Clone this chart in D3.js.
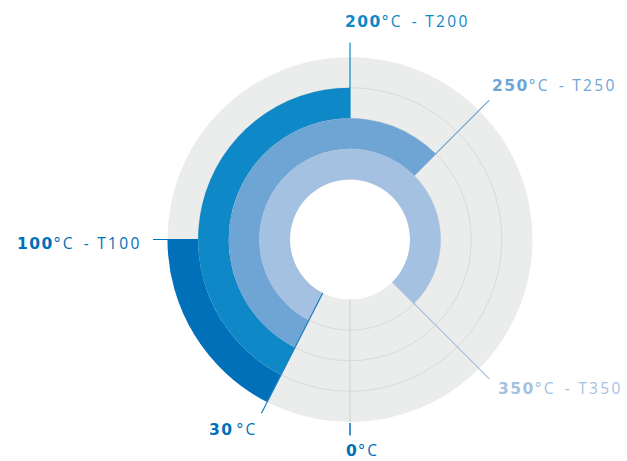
<!DOCTYPE html>
<html><head><meta charset="utf-8">
<script src="https://cdn.jsdelivr.net/npm/d3@7"></script>
<style>
html,body{margin:0;padding:0;background:#fff;}
svg{display:block;}
.num{font-family:"DejaVu Sans",sans-serif;font-weight:bold;}
.thin{font-family:"Open Sans",sans-serif;font-weight:400;}
</style></head>
<body>
<svg id="chart" width="627" height="461"></svg>
<script>
// ---- data ----
const series = ["T100", "T200", "T250", "T350"];
const startTemps = [30, 30, 30, 30];
const endTemps = [100, 200, 250, 350];
const seriesColors = ["#0070b8", "#0e88c6", "#6fa5d4", "#a5c1e1"];
const tickTemps = [0, 30];
const tickLabels = ["0", "30"];

const W = 627, H = 461;
const cx = 350, cy = 239.5;
const innerR = 60, outerR = 182.5, lineR = 197;

const svg = d3.select("#chart");
const g = svg.append("g").attr("transform", `translate(${cx},${cy})`);

const angle = d3.scaleLinear().domain([0, 400]).range([Math.PI, 3 * Math.PI]);
const ring = d3.scaleBand().domain(series.slice().reverse()).range([innerR, outerR]).padding(0);

// background disc
g.append("path")
  .attr("d", d3.arc()({innerRadius: innerR, outerRadius: outerR, startAngle: 0, endAngle: 2 * Math.PI}))
  .attr("fill", "#ebecec");

// grid circles
const gridR = series.slice().reverse().slice(1).map(s => ring(s));
g.selectAll("circle.grid").data(gridR).join("circle")
  .attr("r", d => d).attr("fill", "none").attr("stroke", "#d9dada").attr("stroke-width", 1);

const pt = (t, r) => [Math.sin(angle(t)) * r, -Math.cos(angle(t)) * r];
// 0°C gray spoke
g.append("line")
  .attr("x1", pt(tickTemps[0], innerR)[0]).attr("y1", pt(tickTemps[0], innerR)[1])
  .attr("x2", pt(tickTemps[0], outerR)[0]).attr("y2", pt(tickTemps[0], outerR)[1])
  .attr("stroke", "#d9dada").attr("stroke-width", 1.5);

// rings
const arc = d3.arc();
g.selectAll("path.ring").data(series).join("path")
  .attr("class", "ring")
  .attr("d", (s, i) => arc({
    innerRadius: ring(s), outerRadius: ring(s) + ring.bandwidth(),
    startAngle: angle(endTemps[i]), endAngle: angle(startTemps[i])
  }))
  .attr("fill", (s, i) => seriesColors[i]);

// leader lines for series ends
series.forEach((s, i) => {
  const t = endTemps[i];
  const a = pt(t, ring(s)), b = pt(t, lineR);
  g.append("line").attr("x1", a[0]).attr("y1", a[1]).attr("x2", b[0]).attr("y2", b[1])
    .attr("stroke", seriesColors[i]).attr("stroke-width", 1.2);
});
// 30 line
{
  const a = pt(tickTemps[1], innerR), b = pt(tickTemps[1], lineR - 2);
  g.append("line").attr("x1", a[0]).attr("y1", a[1]).attr("x2", b[0]).attr("y2", b[1])
    .attr("stroke", "#1a7fc2").attr("stroke-width", 1.2);
}
// 0 tick
{
  const a = pt(tickTemps[0], outerR + 1), b = pt(tickTemps[0], lineR - 1);
  g.append("line").attr("x1", a[0]).attr("y1", a[1]).attr("x2", b[0]).attr("y2", b[1])
    .attr("stroke", "#0070b8").attr("stroke-width", 1.5);
}

// labels
function label(x, y, num, rest, color, gap) {
  const t = svg.append("text").attr("x", x).attr("y", y).attr("fill", color).attr("font-size", 15.5);
  t.append("tspan").attr("class", "num").attr("letter-spacing", 1.5).text(num);
  t.append("tspan").attr("class", "thin").attr("dx", gap).attr("letter-spacing", 2.2).text("°C");
  if (rest) t.append("tspan").attr("class", "thin").attr("dx", 9).attr("letter-spacing", 2.3).text("- " + rest);
}
label(345, 27, String(endTemps[1]), series[1], seriesColors[1], 0);
label(492, 91, String(endTemps[2]), series[2], seriesColors[2], 0);
label(17, 248.5, String(endTemps[0]), series[0], seriesColors[0], 0);
label(498, 393.5, String(endTemps[3]), series[3], seriesColors[3], 0);
label(209, 435, tickLabels[1], null, "#0070b8", 3);
label(346, 456, tickLabels[0], null, "#0070b8", 0);
</script>
</body></html>
